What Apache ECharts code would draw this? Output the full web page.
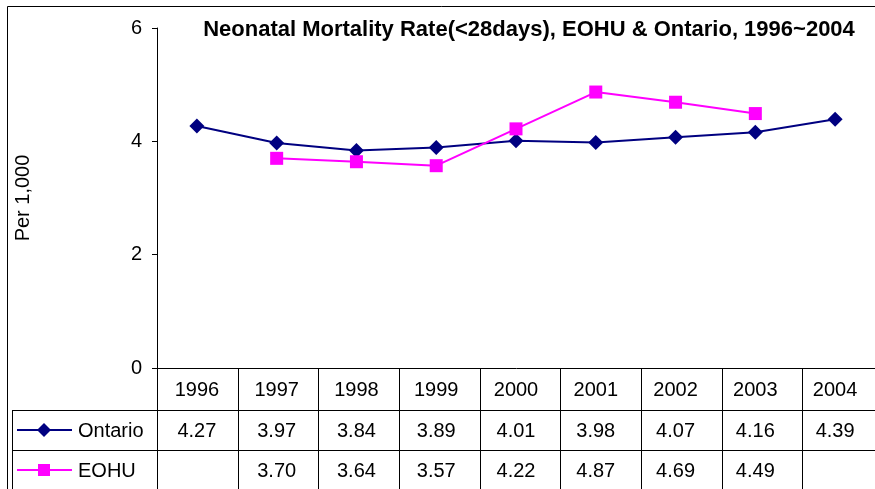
<!DOCTYPE html>
<html><head><meta charset="utf-8">
<script src="https://cdn.jsdelivr.net/npm/echarts@6/dist/echarts.min.js"></script>
<style>html,body{margin:0;padding:0;background:#fff}#c{width:875px;height:489px}</style>
</head><body><div id="c"></div>
<script>
var years = ['1996','1997','1998','1999','2000','2001','2002','2003','2004'];
var ontario = [4.27,3.97,3.84,3.89,4.01,3.98,4.07,4.16,4.39];
var eohu = [null,3.70,3.64,3.57,4.22,4.87,4.69,4.49,null];
var yTicks = [0,2,4,6];
var seriesNames = ['Ontario','EOHU'];
var FONT = 'Liberation Sans, Arial, sans-serif';
var NAVY = '#000080', MAG = '#FF00FF';
var FS = 20;

var chart = echarts.init(document.getElementById('c'));
var G = {left:157, top:28, width:726, height:340};
chart.setOption({
  animation:false,
  title:{text:'Neonatal Mortality Rate(<28days), EOHU & Ontario, 1996~2004',left:524,top:14,textAlign:'center',
    textStyle:{fontFamily:FONT,fontSize:22,fontWeight:'bold',color:'#000'}},
  grid:{left:G.left,top:G.top,width:G.width,height:G.height},
  xAxis:{type:'category',data:years,boundaryGap:true,
    axisLine:{show:false},axisTick:{show:false},axisLabel:{show:false},splitLine:{show:false}},
  yAxis:{type:'value',min:0,max:6,interval:2,name:'Per 1,000',nameLocation:'middle',nameGap:124,nameRotate:90,
    nameTextStyle:{fontFamily:FONT,fontSize:FS,color:'#000'},
    axisLine:{show:true,lineStyle:{color:'#000',width:1}},
    axisTick:{show:true,inside:false,length:5,lineStyle:{color:'#000'}},
    axisLabel:{fontFamily:FONT,fontSize:FS,color:'#000',margin:15},
    splitLine:{show:false}},
  series:[
    {name:seriesNames[0],type:'line',data:ontario,symbol:'diamond',symbolSize:15,
      lineStyle:{color:NAVY,width:2},itemStyle:{color:NAVY}},
    {name:seriesNames[1],type:'line',data:eohu,symbol:'rect',symbolSize:13,connectNulls:false,
      lineStyle:{color:MAG,width:2},itemStyle:{color:MAG}}
  ]
});

// Build the data table beneath the plot
var els = [];
var y0 = chart.convertToPixel({yAxisIndex:0},0);
var rowH = [42,40,40];
var rows = [y0, y0+rowH[0], y0+rowH[0]+rowH[1], y0+rowH[0]+rowH[1]+rowH[2]];
var colW = G.width/years.length;
var line = function(x1,y1,x2,y2){els.push({type:'line',shape:{x1:x1,y1:y1,x2:x2,y2:y2},style:{stroke:'#000',lineWidth:1}});};
// outer chart border
line(7.5,6.5,875,6.5); line(7.5,6.5,7.5,489);
// horizontal lines
line(G.left,Math.round(rows[0])+0.5,G.left+G.width,Math.round(rows[0])+0.5);
line(12,Math.round(rows[1])+0.5,G.left+G.width,Math.round(rows[1])+0.5);
line(12,Math.round(rows[2])+0.5,G.left+G.width,Math.round(rows[2])+0.5);
// vertical lines
line(12.5,Math.round(rows[1]),12.5,489);
for (var i=0;i<=years.length;i++){
  var x = Math.round(G.left + i*colW)+0.5;
  line(x,Math.round(rows[0]),x,489);
}
var txt = function(s,x,y,align){els.push({type:'text',x:x,y:y,style:{text:s,font:FS+'px '+FONT,fill:'#000',textAlign:align||'center',textVerticalAlign:'middle'}});};
years.forEach(function(yr,i){
  var cx = chart.convertToPixel({xAxisIndex:0},yr);
  txt(yr,cx,(rows[0]+rows[1])/2+1);
  if (ontario[i]!=null) txt(ontario[i].toFixed(2),cx,(rows[1]+rows[2])/2+1);
  if (eohu[i]!=null) txt(eohu[i].toFixed(2),cx,(rows[2]+rows[3])/2+1);
});
// legend keys in table
var legendRow = function(name,color,symbol,cy){
  els.push({type:'line',shape:{x1:17,y1:cy,x2:72,y2:cy},style:{stroke:color,lineWidth:2}});
  if (symbol==='diamond') els.push({type:'polygon',shape:{points:[[44,cy-7],[51,cy],[44,cy+7],[37,cy]]},style:{fill:color}});
  else els.push({type:'rect',shape:{x:38,y:cy-6,width:12,height:12},style:{fill:color}});
  txt(name,78,cy+1,'left');
};
legendRow(seriesNames[0],NAVY,'diamond',(rows[1]+rows[2])/2);
legendRow(seriesNames[1],MAG,'rect',(rows[2]+rows[3])/2);
chart.setOption({graphic:{elements:els}});
</script></body></html>
